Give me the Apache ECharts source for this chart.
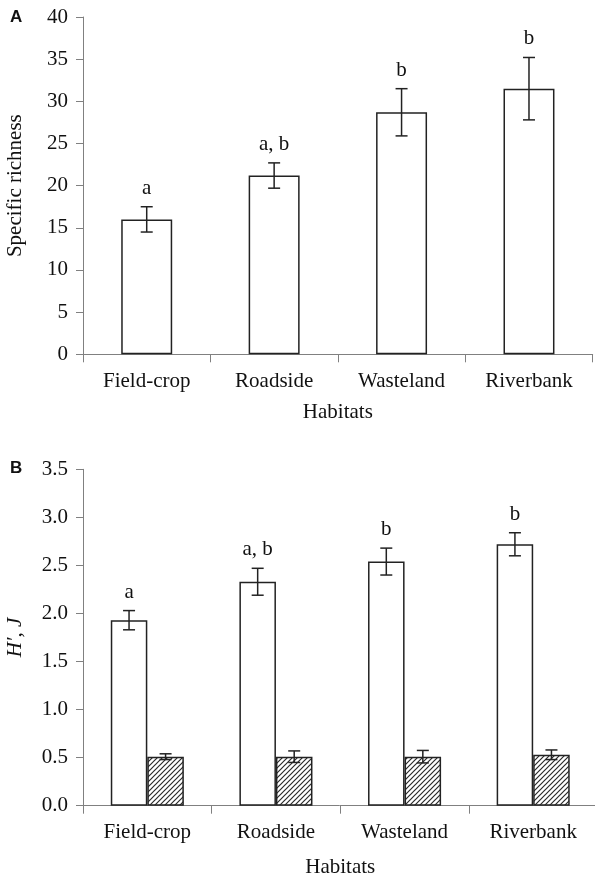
<!DOCTYPE html>
<html>
<head>
<meta charset="utf-8">
<script src="https://cdn.jsdelivr.net/npm/echarts@6/dist/echarts.min.js"></script>
<style>
  html, body { margin: 0; padding: 0; background: #fff; }
  #chart { width: 595px; height: 880px; }
</style>
</head>
<body>
<div id="chart"></div>
<script>
// Habitat categories shared by both panels
const habitats = ['Field-crop', 'Roadside', 'Wasteland', 'Riverbank'];

// Panel A: specific richness (mean and error)
const richnessMean = [16.0, 21.2, 28.7, 31.5];
const richnessErr = [1.5, 1.5, 2.8, 3.7];
const richnessGroups = ['a', 'a, b', 'b', 'b'];

// Panel B: Shannon diversity H' and evenness J (mean and error)
const shannonMean = [1.93, 2.33, 2.54, 2.72];
const shannonErr = [0.10, 0.14, 0.14, 0.12];
const shannonGroups = ['a', 'a, b', 'b', 'b'];
const evennessMean = [0.51, 0.51, 0.51, 0.53];
const evennessErr = [0.03, 0.06, 0.065, 0.05];

// Axis ranges
const richnessAxis = { min: 0, max: 40, interval: 5 };
const diversityAxis = { min: 0, max: 3.5, interval: 0.5 };

const SERIF = '"Liberation Serif", "Times New Roman", serif';
const FS = 21;
const INK = '#222';
const AXIS = '#808080';

// Diagonal hatch tile for the evenness bars
function hatchPattern() {
  const c = document.createElement('canvas');
  const s = 5;
  c.width = s; c.height = s;
  const g = c.getContext('2d');
  g.fillStyle = '#fff';
  g.fillRect(0, 0, s, s);
  g.strokeStyle = '#2a2a2a';
  g.lineWidth = 1.2;
  g.beginPath();
  g.moveTo(-1, s + 1); g.lineTo(s + 1, -1);
  g.moveTo(-1, 1); g.lineTo(1, -1);
  g.moveTo(s - 1, s + 1); g.lineTo(s + 1, s - 1);
  g.stroke();
  return c;
}

// Error bar with caps, optionally with a group letter above it
function errorBars(offsetFrac, capW, groups) {
  return function (params, api) {
    const i = api.value(0);
    const mean = api.value(1);
    const err = api.value(2);
    const band = api.size([1, 0])[0];
    const x = api.coord([i, mean])[0] + offsetFrac * band;
    const yHi = api.coord([i, mean + err])[1];
    const yLo = api.coord([i, mean - err])[1];
    const line = { stroke: INK, lineWidth: 1.5 };
    const children = [
      { type: 'line', shape: { x1: x, y1: yHi, x2: x, y2: yLo }, style: line },
      { type: 'line', shape: { x1: x - capW / 2, y1: yHi, x2: x + capW / 2, y2: yHi }, style: line },
      { type: 'line', shape: { x1: x - capW / 2, y1: yLo, x2: x + capW / 2, y2: yLo }, style: line }
    ];
    if (groups) {
      children.push({
        type: 'text',
        style: {
          text: groups[params.dataIndex],
          x: x, y: yHi - 8,
          align: 'center', verticalAlign: 'bottom',
          font: FS + 'px ' + SERIF, fill: '#111'
        }
      });
    }
    return { type: 'group', children: children };
  };
}

function toErrData(mean, err) {
  return mean.map((m, i) => [i, m, err[i]]);
}

const catAxis = (gridIndex, labelMargin, nameGap) => ({
  type: 'category',
  gridIndex: gridIndex,
  data: habitats,
  boundaryGap: true,
  name: 'Habitats',
  nameLocation: 'middle',
  nameGap: nameGap,
  nameTextStyle: { fontFamily: SERIF, fontSize: FS, color: '#111' },
  axisLine: { lineStyle: { color: AXIS, width: 1 } },
  axisTick: { show: true, length: 8, inside: false, alignWithLabel: false, lineStyle: { color: AXIS } },
  axisLabel: { margin: labelMargin, fontFamily: SERIF, fontSize: FS, color: '#111' },
  splitLine: { show: false }
});

const valAxis = (gridIndex, range, name, nameStyle, fmt) => ({
  type: 'value',
  gridIndex: gridIndex,
  min: range.min, max: range.max, interval: range.interval,
  name: name,
  nameLocation: 'middle',
  nameGap: 57,
  nameRotate: 90,
  nameTextStyle: Object.assign({ fontFamily: SERIF, fontSize: FS, color: '#111' }, nameStyle),
  axisLine: { show: true, lineStyle: { color: AXIS, width: 1 } },
  axisTick: { show: true, length: 7, inside: false, lineStyle: { color: AXIS } },
  axisLabel: { margin: 15, fontFamily: SERIF, fontSize: FS, color: '#111', formatter: fmt },
  splitLine: { show: false }
});

const chart = echarts.init(document.getElementById('chart'), null, { renderer: 'canvas' });

chart.setOption({
  animation: false,
  backgroundColor: '#fff',
  grid: [
    { left: 83, right: 2.3, top: 17, bottom: 525.7, containLabel: false, outerBoundsMode: 'none' },
    { left: 83, right: -2.5, top: 469.3, bottom: 74.3, containLabel: false, outerBoundsMode: 'none' }
  ],
  xAxis: [catAxis(0, 17, 48), catAxis(1, 16, 51)],
  yAxis: [
    valAxis(0, richnessAxis, 'Specific richness', {}, v => String(v)),
    valAxis(1, diversityAxis, 'H\u2032, J', { fontStyle: 'italic' }, v => v.toFixed(1))
  ],
  graphic: [
    { type: 'text', left: 10, top: 9, style: { text: 'A', font: 'bold 17px "Liberation Sans", Arial, sans-serif', fill: '#111' } },
    { type: 'text', left: 10, top: 460, style: { text: 'B', font: 'bold 17px "Liberation Sans", Arial, sans-serif', fill: '#111' } }
  ],
  series: [
    {
      name: 'Specific richness',
      type: 'bar',
      xAxisIndex: 0, yAxisIndex: 0,
      data: richnessMean,
      barWidth: '40%',
      itemStyle: { color: '#fff', borderColor: INK, borderWidth: 1.5 }
    },
    {
      type: 'custom',
      xAxisIndex: 0, yAxisIndex: 0,
      data: toErrData(richnessMean, richnessErr),
      encode: { x: 0, y: 1 },
      renderItem: errorBars(0, 12, richnessGroups),
      z: 5
    },
    {
      name: "H'",
      type: 'bar',
      xAxisIndex: 1, yAxisIndex: 1,
      data: shannonMean,
      barWidth: '28.4%',
      barGap: '0%',
      itemStyle: { color: '#fff', borderColor: INK, borderWidth: 1.5 }
    },
    {
      name: 'J',
      type: 'bar',
      xAxisIndex: 1, yAxisIndex: 1,
      data: evennessMean,
      barWidth: '28.4%',
      barGap: '0%',
      itemStyle: { color: { image: hatchPattern(), repeat: 'repeat' }, borderColor: INK, borderWidth: 1.5 }
    },
    {
      type: 'custom',
      xAxisIndex: 1, yAxisIndex: 1,
      data: toErrData(shannonMean, shannonErr),
      encode: { x: 0, y: 1 },
      renderItem: errorBars(-0.142, 12, shannonGroups),
      z: 5
    },
    {
      type: 'custom',
      xAxisIndex: 1, yAxisIndex: 1,
      data: toErrData(evennessMean, evennessErr),
      encode: { x: 0, y: 1 },
      renderItem: errorBars(0.142, 12, null),
      z: 5
    }
  ]
});
</script>
</body>
</html>
